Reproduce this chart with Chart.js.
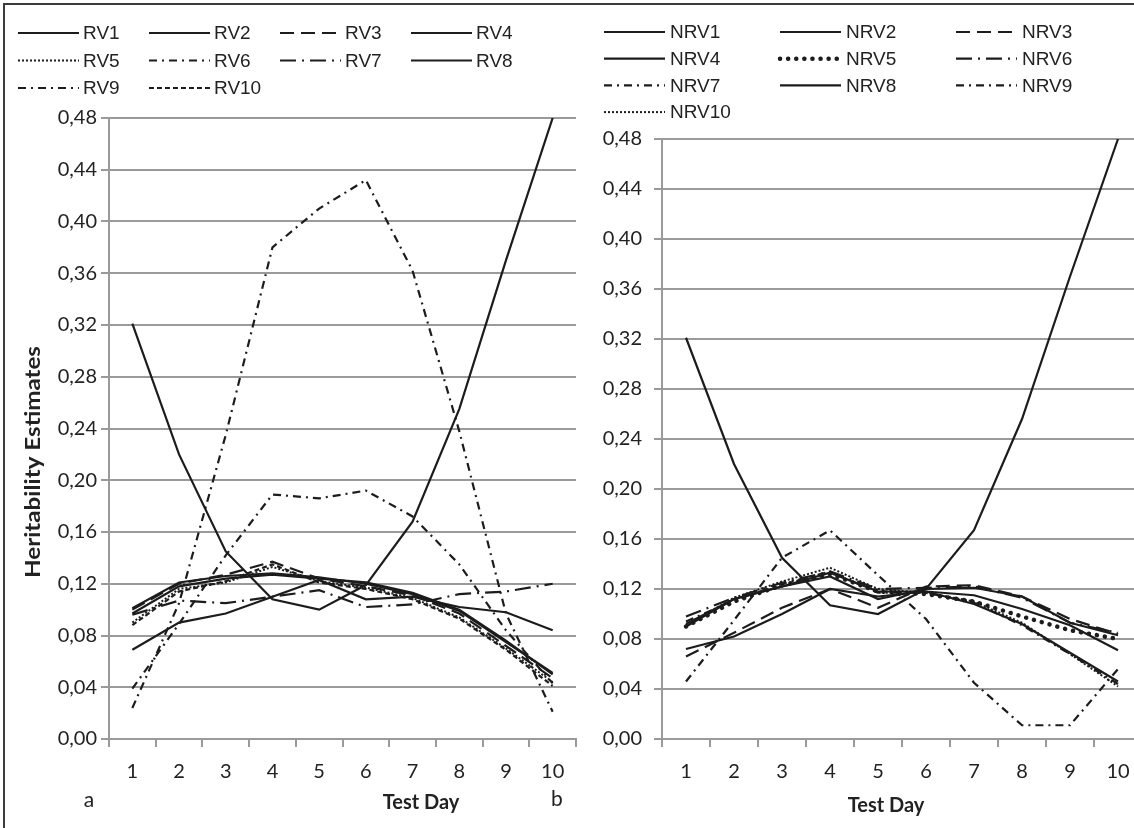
<!DOCTYPE html>
<html>
<head>
<meta charset="utf-8">
<title>Heritability estimates by test day</title>
<script src="https://cdn.jsdelivr.net/npm/chart.js@4.4.1/dist/chart.umd.min.js"></script>
<style>
    html, body { margin: 0; padding: 0; width: 1134px; height: 828px; overflow: hidden; background: #fff; }
    #frame { position: absolute; left: 3px; top: 3px; width: 1200px; height: 900px;
             border-left: 2px solid #3c3c3c; border-top: 2px solid #3c3c3c; }
    #wrapA { position: absolute; left: 0; top: 0; width: 580px; height: 828px; }
    #wrapB { position: absolute; left: 567px; top: 0; width: 579px; height: 828px; }
</style>
</head>
<body>
<div id="frame"></div>
<div id="wrapA"><canvas id="chartRV"></canvas></div>
<div id="wrapB"><canvas id="chartNRV"></canvas></div>

<script>
// ── DATA ─────────────────────────────────────────────────────
const days   = ['1', '2', '3', '4', '5', '6', '7', '8', '9', '10'];
const yTicks = [0, 0.04, 0.08, 0.12, 0.16, 0.20, 0.24, 0.28, 0.32, 0.36, 0.40, 0.44, 0.48];

// panel a – RV
const rv1  = [0.321, 0.220, 0.145, 0.108, 0.100, 0.119, 0.168, 0.255, 0.370, 0.480];
const rv2  = [0.069, 0.090, 0.097, 0.110, 0.123, 0.108, 0.110, 0.102, 0.098, 0.084];
const rv3  = [0.100, 0.120, 0.127, 0.137, 0.124, 0.118, 0.111, 0.097, 0.072, 0.047];
const rv4  = [0.101, 0.121, 0.126, 0.128, 0.125, 0.120, 0.112, 0.099, 0.075, 0.051];
const rv5  = [0.090, 0.116, 0.121, 0.133, 0.122, 0.117, 0.109, 0.094, 0.070, 0.044];
const rv6  = [0.039, 0.089, 0.142, 0.189, 0.186, 0.192, 0.172, 0.135, 0.084, 0.043];
const rv7  = [0.096, 0.107, 0.105, 0.110, 0.115, 0.102, 0.104, 0.112, 0.114, 0.120];
const rv8  = [0.097, 0.118, 0.124, 0.127, 0.124, 0.121, 0.113, 0.100, 0.076, 0.050];
const rv9  = [0.024, 0.105, 0.235, 0.380, 0.410, 0.432, 0.362, 0.238, 0.097, 0.021];
const rv10 = [0.088, 0.114, 0.122, 0.135, 0.121, 0.116, 0.108, 0.093, 0.069, 0.041];

// panel b – NRV
const nrv1  = [0.321, 0.220, 0.145, 0.107, 0.100, 0.120, 0.167, 0.256, 0.370, 0.480];
const nrv2  = [0.092, 0.112, 0.122, 0.133, 0.118, 0.118, 0.108, 0.092, 0.069, 0.046];
const nrv3  = [0.066, 0.085, 0.105, 0.120, 0.105, 0.122, 0.123, 0.114, 0.096, 0.084];
const nrv4  = [0.072, 0.082, 0.100, 0.120, 0.114, 0.118, 0.115, 0.104, 0.091, 0.071];
const nrv5  = [0.090, 0.110, 0.123, 0.132, 0.118, 0.116, 0.110, 0.098, 0.087, 0.080];
const nrv6  = [0.098, 0.113, 0.125, 0.134, 0.120, 0.121, 0.122, 0.113, 0.093, 0.085];
const nrv7  = [0.046, 0.095, 0.145, 0.167, 0.131, 0.096, 0.045, 0.011, 0.011, 0.056];
const nrv8  = [0.090, 0.112, 0.122, 0.130, 0.112, 0.120, 0.121, 0.114, 0.093, 0.083];
const nrv9  = [0.094, 0.111, 0.124, 0.134, 0.117, 0.117, 0.109, 0.091, 0.068, 0.044];
const nrv10 = [0.091, 0.113, 0.126, 0.137, 0.120, 0.117, 0.110, 0.093, 0.068, 0.042];

// ── STYLE ────────────────────────────────────────────────────
const LINE = '#1c1c1c';
const GRID = '#9a9a9a';
const TEXT = '#222222';
const tickFont = { family: 'Lato', size: 20 };

const styles = {
    solid:       { borderDash: [],            borderWidth: 2.2 },
    dashed:      { borderDash: [14, 7],       borderWidth: 2.2 },
    shortDash:   { borderDash: [5, 3],        borderWidth: 2.2 },
    dotted:      { borderDash: [2, 2],        borderWidth: 2 },
    dashDot:     { borderDash: [8, 5, 2, 5],  borderWidth: 2.2 },
    longDashDot: { borderDash: [16, 6, 2, 6], borderWidth: 2.2 },
    roundDot:    { borderDash: [0.1, 8],      borderWidth: 4.5, borderCapStyle: 'round' },
};

function series(label, data, style) {
    return Object.assign({
        label: label,
        data: data,
        borderColor: LINE,
        backgroundColor: LINE,
        pointRadius: 0,
        tension: 0,
        fill: false,
    }, styles[style]);
}

// ── PLUGINS ──────────────────────────────────────────────────
// Excel-like legend laid out on a fixed column grid
const gridLegend = {
    id: 'gridLegend',
    afterDraw(chart, args, opts) {
        const ctx = chart.ctx;
        ctx.save();
        ctx.font = opts.font;
        ctx.fillStyle = TEXT;
        ctx.textBaseline = 'middle';
        chart.data.datasets.forEach(function (ds, i) {
            const col = i % opts.cols;
            const row = Math.floor(i / opts.cols);
            const x = opts.x + col * opts.colW;
            const y = opts.y + row * opts.rowH;
            ctx.beginPath();
            ctx.setLineDash(ds.borderDash || []);
            ctx.lineCap = ds.borderCapStyle || 'butt';
            ctx.lineWidth = ds.borderWidth;
            ctx.strokeStyle = ds.borderColor;
            ctx.moveTo(x, y);
            ctx.lineTo(x + opts.sample, y);
            ctx.stroke();
            ctx.setLineDash([]);
            ctx.fillText(ds.label, x + opts.sample + opts.gap, y + 1);
        });
        ctx.restore();
    }
};

// free-standing captions (axis titles, panel letters)
const panelText = {
    id: 'panelText',
    afterDraw(chart, args, opts) {
        const ctx = chart.ctx;
        (opts.items || []).forEach(function (t) {
            ctx.save();
            ctx.font = t.font;
            ctx.fillStyle = TEXT;
            ctx.textAlign = 'center';
            ctx.textBaseline = 'middle';
            ctx.translate(t.x, t.y);
            if (t.rotate) ctx.rotate(t.rotate);
            if (t.width) {
                const w = ctx.measureText(t.text).width;
                ctx.scale(t.width / w, 1);
            }
            ctx.fillText(t.text, 0, 0);
            ctx.restore();
        });
    }
};

Chart.register(gridLegend, panelText);

// ── OPTIONS ──────────────────────────────────────────────────
function buildOptions(cfg) {
    return {
        responsive: true,
        maintainAspectRatio: false,
        animation: false,
        layout: { padding: { top: cfg.top, right: 4, left: 0, bottom: 0 } },
        plugins: {
            legend: { display: false },
            tooltip: { enabled: false },
            gridLegend: cfg.legend,
            panelText: { items: cfg.texts },
        },
        scales: {
            x: {
                type: 'category',
                offset: true,
                grid: { offset: true, drawOnChartArea: false, drawTicks: true, tickLength: 8, color: GRID, lineWidth: 2 },
                border: { color: GRID, width: 2 },
                ticks: { font: tickFont, color: TEXT, padding: 13, maxRotation: 0, autoSkip: false },
                afterFit: function (s) { s.height = 828 - 739; },
            },
            y: {
                min: 0,
                max: 0.48,
                afterBuildTicks: function (s) { s.ticks = yTicks.map(function (v) { return { value: v }; }); },
                grid: { color: GRID, lineWidth: 2, tickLength: 8 },
                border: { color: GRID, width: 2 },
                ticks: {
                    font: tickFont, color: TEXT, padding: cfg.labelPad,
                    callback: function (v) { return v.toFixed(2).replace('.', ','); },
                },
                afterFit: function (s) { s.width = cfg.axisW; },
            },
        },
    };
}

// ── CHARTS ───────────────────────────────────────────────────
new Chart(document.getElementById('chartRV'), {
    type: 'line',
    data: {
        labels: days,
        datasets: [
            series('RV1', rv1, 'solid'),
            series('RV2', rv2, 'solid'),
            series('RV3', rv3, 'dashed'),
            series('RV4', rv4, 'solid'),
            series('RV5', rv5, 'dotted'),
            series('RV6', rv6, 'dashDot'),
            series('RV7', rv7, 'longDashDot'),
            series('RV8', rv8, 'solid'),
            series('RV9', rv9, 'dashDot'),
            series('RV10', rv10, 'shortDash'),
        ],
    },
    options: buildOptions({
        top: 118,
        axisW: 109,
        labelPad: 4,
        legend: { x: 18, y: 33, cols: 4, colW: 131, rowH: 27.5, sample: 61, gap: 4, font: '19px "Liberation Sans", Arial, sans-serif' },
        texts: [
            { text: 'Heritability Estimates', x: 34, y: 462, rotate: -Math.PI / 2, font: 'bold 20px Lato', width: 232 },
            { text: 'Test Day', x: 421, y: 803, font: 'bold 20px Lato' },
            { text: 'a', x: 89, y: 800, font: '21px Lato' },
            { text: 'b', x: 557, y: 799, font: '21px Lato' },
        ],
    }),
});

new Chart(document.getElementById('chartNRV'), {
    type: 'line',
    data: {
        labels: days,
        datasets: [
            series('NRV1', nrv1, 'solid'),
            series('NRV2', nrv2, 'solid'),
            series('NRV3', nrv3, 'dashed'),
            series('NRV4', nrv4, 'solid'),
            series('NRV5', nrv5, 'roundDot'),
            series('NRV6', nrv6, 'longDashDot'),
            series('NRV7', nrv7, 'dashDot'),
            series('NRV8', nrv8, 'solid'),
            series('NRV9', nrv9, 'dashDot'),
            series('NRV10', nrv10, 'dotted'),
        ],
    },
    options: buildOptions({
        top: 139,
        axisW: 95,
        labelPad: 12,
        legend: { x: 37, y: 32, cols: 3, colW: 176, rowH: 26.7, sample: 61, gap: 5, font: '19px "Liberation Sans", Arial, sans-serif' },
        texts: [
            { text: 'Test Day', x: 319, y: 806, font: 'bold 20px Lato' },
        ],
    }),
});
</script>
</body>
</html>
